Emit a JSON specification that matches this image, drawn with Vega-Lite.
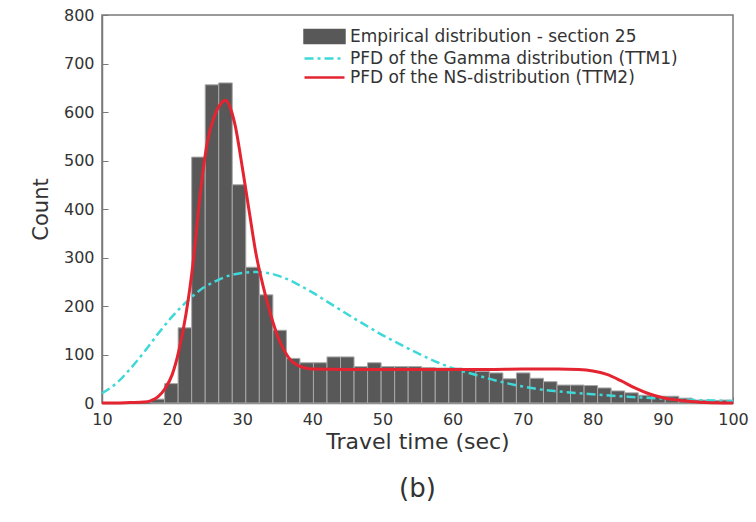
{
  "$schema": "https://vega.github.io/schema/vega-lite/v6.json",
  "width": 631,
  "height": 388,
  "autosize": "none",
  "padding": {"left": 102, "top": 15, "right": 23, "bottom": 119},
  "background": "white",
  "title": {"text": "(b)", "orient": "bottom", "anchor": "middle", "fontSize": 26, "font": "DejaVu Sans", "fontWeight": "normal", "color": "#333333", "offset": 24},
  "datasets": {
    "bins": [
      {"start": 17.00, "end": 18.93, "count": 8},
      {"start": 18.93, "end": 20.86, "count": 40},
      {"start": 20.86, "end": 22.79, "count": 155},
      {"start": 22.79, "end": 24.72, "count": 507},
      {"start": 24.72, "end": 26.65, "count": 656},
      {"start": 26.65, "end": 28.58, "count": 660},
      {"start": 28.58, "end": 30.51, "count": 450},
      {"start": 30.51, "end": 32.44, "count": 280},
      {"start": 32.44, "end": 34.37, "count": 223},
      {"start": 34.37, "end": 36.30, "count": 150},
      {"start": 36.30, "end": 38.23, "count": 92},
      {"start": 38.23, "end": 40.16, "count": 83},
      {"start": 40.16, "end": 42.09, "count": 83},
      {"start": 42.09, "end": 44.02, "count": 95},
      {"start": 44.02, "end": 45.95, "count": 95},
      {"start": 45.95, "end": 47.88, "count": 75},
      {"start": 47.88, "end": 49.81, "count": 83},
      {"start": 49.81, "end": 51.74, "count": 75},
      {"start": 51.74, "end": 53.67, "count": 75},
      {"start": 53.67, "end": 55.60, "count": 75},
      {"start": 55.60, "end": 57.53, "count": 73},
      {"start": 57.53, "end": 59.46, "count": 72},
      {"start": 59.46, "end": 61.39, "count": 72},
      {"start": 61.39, "end": 63.32, "count": 70},
      {"start": 63.32, "end": 65.25, "count": 65},
      {"start": 65.25, "end": 67.18, "count": 62},
      {"start": 67.18, "end": 69.11, "count": 50},
      {"start": 69.11, "end": 71.04, "count": 62},
      {"start": 71.04, "end": 72.97, "count": 51},
      {"start": 72.97, "end": 74.90, "count": 44},
      {"start": 74.90, "end": 76.83, "count": 37},
      {"start": 76.83, "end": 78.76, "count": 37},
      {"start": 78.76, "end": 80.69, "count": 36},
      {"start": 80.69, "end": 82.62, "count": 31},
      {"start": 82.62, "end": 84.55, "count": 25},
      {"start": 84.55, "end": 86.48, "count": 21},
      {"start": 86.48, "end": 88.41, "count": 16},
      {"start": 88.41, "end": 90.34, "count": 14},
      {"start": 90.34, "end": 92.27, "count": 14},
      {"start": 92.27, "end": 94.20, "count": 10},
      {"start": 94.20, "end": 96.13, "count": 6},
      {"start": 96.13, "end": 98.06, "count": 5},
      {"start": 98.06, "end": 99.99, "count": 6}
    ],
    "gamma": [
      {"x": 10, "y": 20}, {"x": 12, "y": 40}, {"x": 14, "y": 70}, {"x": 16, "y": 105},
      {"x": 18, "y": 143}, {"x": 20, "y": 178}, {"x": 22, "y": 208}, {"x": 24, "y": 233},
      {"x": 26, "y": 250}, {"x": 28, "y": 262}, {"x": 30, "y": 268}, {"x": 32, "y": 270},
      {"x": 34, "y": 267}, {"x": 36, "y": 258}, {"x": 38, "y": 244}, {"x": 40, "y": 228},
      {"x": 42, "y": 210}, {"x": 44, "y": 192}, {"x": 46, "y": 174}, {"x": 48, "y": 157},
      {"x": 50, "y": 140}, {"x": 52, "y": 125}, {"x": 54, "y": 110}, {"x": 56, "y": 96},
      {"x": 58, "y": 83}, {"x": 60, "y": 72}, {"x": 62, "y": 63}, {"x": 64, "y": 55},
      {"x": 66, "y": 47}, {"x": 68, "y": 40}, {"x": 70, "y": 34}, {"x": 72, "y": 29},
      {"x": 75, "y": 24}, {"x": 80, "y": 18}, {"x": 85, "y": 13}, {"x": 90, "y": 9},
      {"x": 95, "y": 6}, {"x": 100, "y": 4}
    ],
    "ns": [
      {"x": 10, "y": 0}, {"x": 12, "y": 0}, {"x": 14, "y": 1}, {"x": 16, "y": 2},
      {"x": 17, "y": 5}, {"x": 18, "y": 13}, {"x": 19, "y": 30}, {"x": 20, "y": 58},
      {"x": 21, "y": 110}, {"x": 22, "y": 185}, {"x": 23, "y": 290}, {"x": 24, "y": 430},
      {"x": 25, "y": 536}, {"x": 26, "y": 590}, {"x": 27, "y": 618}, {"x": 27.6, "y": 624},
      {"x": 28.5, "y": 600}, {"x": 29, "y": 572}, {"x": 30, "y": 487}, {"x": 31, "y": 395},
      {"x": 32, "y": 305}, {"x": 33, "y": 240}, {"x": 34, "y": 185}, {"x": 35, "y": 140},
      {"x": 36, "y": 108}, {"x": 37, "y": 87}, {"x": 38, "y": 77}, {"x": 39, "y": 72},
      {"x": 40, "y": 70}, {"x": 45, "y": 69}, {"x": 50, "y": 69}, {"x": 55, "y": 69},
      {"x": 60, "y": 69}, {"x": 65, "y": 69}, {"x": 70, "y": 70}, {"x": 75, "y": 70},
      {"x": 78, "y": 69}, {"x": 80, "y": 66}, {"x": 82, "y": 59}, {"x": 84, "y": 46},
      {"x": 86, "y": 31}, {"x": 88, "y": 19}, {"x": 90, "y": 11}, {"x": 92, "y": 6},
      {"x": 94, "y": 3}, {"x": 96, "y": 1}, {"x": 100, "y": 0}
    ]
  },
  "layer": [
    {
      "data": {"name": "bins"},
      "mark": {"type": "rect", "fill": "#585858", "stroke": "#a8a8a8", "strokeWidth": 1},
      "encoding": {
        "x": {"field": "start", "type": "quantitative",
              "scale": {"domain": [10, 100], "nice": false, "zero": false},
              "axis": {"title": "Travel time (sec)", "values": [10, 20, 30, 40, 50, 60, 70, 80, 90, 100]}},
        "x2": {"field": "end"},
        "y": {"field": "count", "type": "quantitative",
              "scale": {"domain": [0, 800], "nice": false},
              "axis": {"title": "Count", "values": [0, 100, 200, 300, 400, 500, 600, 700, 800]}},
        "y2": {"datum": 0},
        "color": {
          "datum": "Empirical distribution - section 25",
          "type": "nominal",
          "scale": {
            "domain": ["Empirical distribution - section 25", "PFD of the Gamma distribution (TTM1)", "PFD of the NS-distribution (TTM2)"],
            "range": ["#585858", "#3fd8d8", "#e42430"]
          },
          "legend": {
            "title": null,
            "orient": "none",
            "legendX": 212,
            "legendY": 11,
            "padding": 0,
            "symbolSize": 324,
            "labelOffset": 15,
            "rowPadding": 0,
            "labelFont": "DejaVu Sans",
            "labelFontSize": 17,
            "labelColor": "#333333",
            "labelLimit": 500,
            "encode": {
              "symbols": {
                "update": {
                  "shape": {"signal": "datum.value === 'Empirical distribution - section 25' ? 'M-2.22,-0.72H2.22V0.72H-2.22Z' : 'M-2.22,0H2.22'"},
                  "fill": {"signal": "datum.value === 'Empirical distribution - section 25' ? '#585858' : 'transparent'"},
                  "stroke": {"signal": "datum.value === 'Empirical distribution - section 25' ? 'transparent' : (datum.value === 'PFD of the Gamma distribution (TTM1)' ? '#3fd8d8' : '#e42430')"},
                  "strokeDash": {"signal": "datum.value === 'PFD of the Gamma distribution (TTM1)' ? [9, 4, 3, 4] : [1, 0]"},
                  "strokeWidth": {"value": 2.5},
                  "opacity": {"value": 1},
                  "fillOpacity": {"value": 1},
                  "strokeOpacity": {"value": 1},
                  "size": {"value": 324}
                }
              }
            }
          }
        }
      }
    },
    {
      "data": {"name": "gamma"},
      "mark": {"type": "line", "strokeWidth": 2.5, "strokeDash": [9, 4, 3, 4], "interpolate": "monotone"},
      "encoding": {
        "x": {"field": "x", "type": "quantitative"},
        "y": {"field": "y", "type": "quantitative"},
        "color": {
          "datum": "PFD of the Gamma distribution (TTM1)",
          "type": "nominal",
          "legend": {
            "title": null,
            "orient": "none",
            "legendX": 212,
            "legendY": 11,
            "padding": 0,
            "symbolSize": 324,
            "labelOffset": 15,
            "rowPadding": 0,
            "labelFont": "DejaVu Sans",
            "labelFontSize": 17,
            "labelColor": "#333333",
            "labelLimit": 500,
            "encode": {
              "symbols": {
                "update": {
                  "shape": {"signal": "datum.value === 'Empirical distribution - section 25' ? 'M-2.22,-0.72H2.22V0.72H-2.22Z' : 'M-2.22,0H2.22'"},
                  "fill": {"signal": "datum.value === 'Empirical distribution - section 25' ? '#585858' : 'transparent'"},
                  "stroke": {"signal": "datum.value === 'Empirical distribution - section 25' ? 'transparent' : (datum.value === 'PFD of the Gamma distribution (TTM1)' ? '#3fd8d8' : '#e42430')"},
                  "strokeDash": {"signal": "datum.value === 'PFD of the Gamma distribution (TTM1)' ? [9, 4, 3, 4] : [1, 0]"},
                  "strokeWidth": {"value": 2.5},
                  "opacity": {"value": 1},
                  "fillOpacity": {"value": 1},
                  "strokeOpacity": {"value": 1},
                  "size": {"value": 324}
                }
              }
            }
          }
        }
      }
    },
    {
      "data": {"name": "ns"},
      "mark": {"type": "line", "strokeWidth": 3, "interpolate": "monotone"},
      "encoding": {
        "x": {"field": "x", "type": "quantitative"},
        "y": {"field": "y", "type": "quantitative"},
        "color": {
          "datum": "PFD of the NS-distribution (TTM2)",
          "type": "nominal",
          "legend": {
            "title": null,
            "orient": "none",
            "legendX": 212,
            "legendY": 11,
            "padding": 0,
            "symbolSize": 324,
            "labelOffset": 15,
            "rowPadding": 0,
            "labelFont": "DejaVu Sans",
            "labelFontSize": 17,
            "labelColor": "#333333",
            "labelLimit": 500,
            "encode": {
              "symbols": {
                "update": {
                  "shape": {"signal": "datum.value === 'Empirical distribution - section 25' ? 'M-2.22,-0.72H2.22V0.72H-2.22Z' : 'M-2.22,0H2.22'"},
                  "fill": {"signal": "datum.value === 'Empirical distribution - section 25' ? '#585858' : 'transparent'"},
                  "stroke": {"signal": "datum.value === 'Empirical distribution - section 25' ? 'transparent' : (datum.value === 'PFD of the Gamma distribution (TTM1)' ? '#3fd8d8' : '#e42430')"},
                  "strokeDash": {"signal": "datum.value === 'PFD of the Gamma distribution (TTM1)' ? [9, 4, 3, 4] : [1, 0]"},
                  "strokeWidth": {"value": 2.5},
                  "opacity": {"value": 1},
                  "fillOpacity": {"value": 1},
                  "strokeOpacity": {"value": 1},
                  "size": {"value": 324}
                }
              }
            }
          }
        }
      }
    }
  ],
  "config": {
    "view": {"stroke": "#7a7a7a", "strokeWidth": 1.5},
    "font": "DejaVu Sans",
    "axis": {
      "grid": false,
      "domainColor": "#7a7a7a",
      "domainWidth": 1.5,
      "tickColor": "#7a7a7a",
      "tickSize": -6,
      "labelFont": "DejaVu Sans",
      "labelFontSize": 16,
      "labelColor": "#333333",
      "labelFlush": false,
      "titleFont": "DejaVu Sans",
      "titleFontWeight": "normal",
      "titleColor": "#333333"
    },
    "axisX": {"titleFontSize": 22, "titlePadding": 4, "labelOverlap": false, "labelPadding": 14},
    "axisY": {"titleFontSize": 21, "titlePadding": 12, "labelPadding": 14}
  }
}
